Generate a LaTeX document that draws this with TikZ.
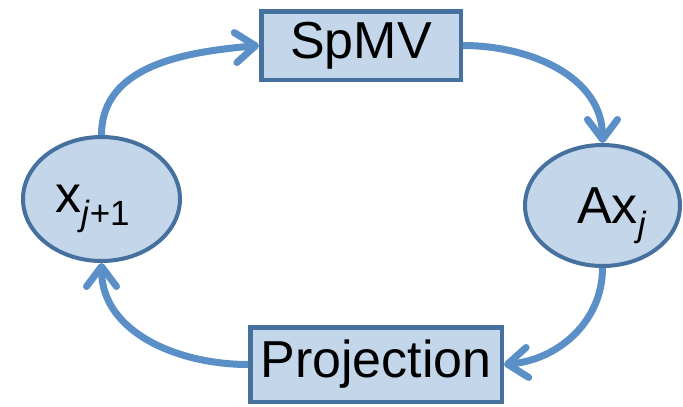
\documentclass[tikz,border=0pt]{standalone}
\usepackage{fontspec}
\setmainfont{Liberation Sans}
\usetikzlibrary{arrows.meta,shapes.geometric}
\definecolor{boxfill}{HTML}{C3D6EA}
\definecolor{boxline}{HTML}{46709E}
\definecolor{flow}{HTML}{5B8FC8}
\tikzset{
  stagebox/.style={draw=boxline, fill=boxfill, line width=4.5pt, rectangle,
    inner sep=0pt, font=\fontsize{52}{60}\selectfont},
  stateoval/.style={draw=boxline, fill=boxfill, line width=4pt, ellipse,
    inner sep=0pt},
  statetext/.style={anchor=base west, inner sep=0pt, font=\fontsize{52}{60}\selectfont},
  flowarrow/.style={draw=flow, line width=7pt,
    -{Straight Barb[round,length=20pt,width=30pt]}},
}
\newcommand{\subidx}[1]{\raisebox{-13pt}{\fontsize{35}{40}\selectfont #1}}
\begin{document}
\begin{tikzpicture}[x=1pt,y=-1pt]
  \useasboundingbox (0,0) rectangle (683,407);

  % the two processing stages
  \node[stagebox, minimum width=199.5pt, minimum height=68.5pt] (spmv) at (361,45.5) {SpMV};
  \node[stagebox, minimum width=251.5pt, minimum height=74.5pt] (proj) at (376,364.5) {Projection};

  % the two iterate states
  \node[stateoval, minimum width=157pt, minimum height=124pt] (xnext) at (101.5,199) {};
  \node[stateoval, minimum width=155pt, minimum height=121pt] (ax) at (602.5,205.5) {};
  \node[statetext] (xnextlabel) at (55,212) {x\subidx{\textit{j}+1}};
  \node[statetext] (axlabel) at (577,223) {Ax\subidx{\textit{j}}};

  % the iteration cycle
  \draw[flowarrow] (xnext.north) to[out=90,in=185] (spmv.west);
  \draw[flowarrow] (spmv.east) to[out=0,in=90] (ax.north);
  \draw[flowarrow] (ax.south) to[out=-90,in=5] (proj.east);
  \draw[flowarrow] (proj.west) to[out=180,in=-90] (xnext.south);
\end{tikzpicture}
\end{document}
